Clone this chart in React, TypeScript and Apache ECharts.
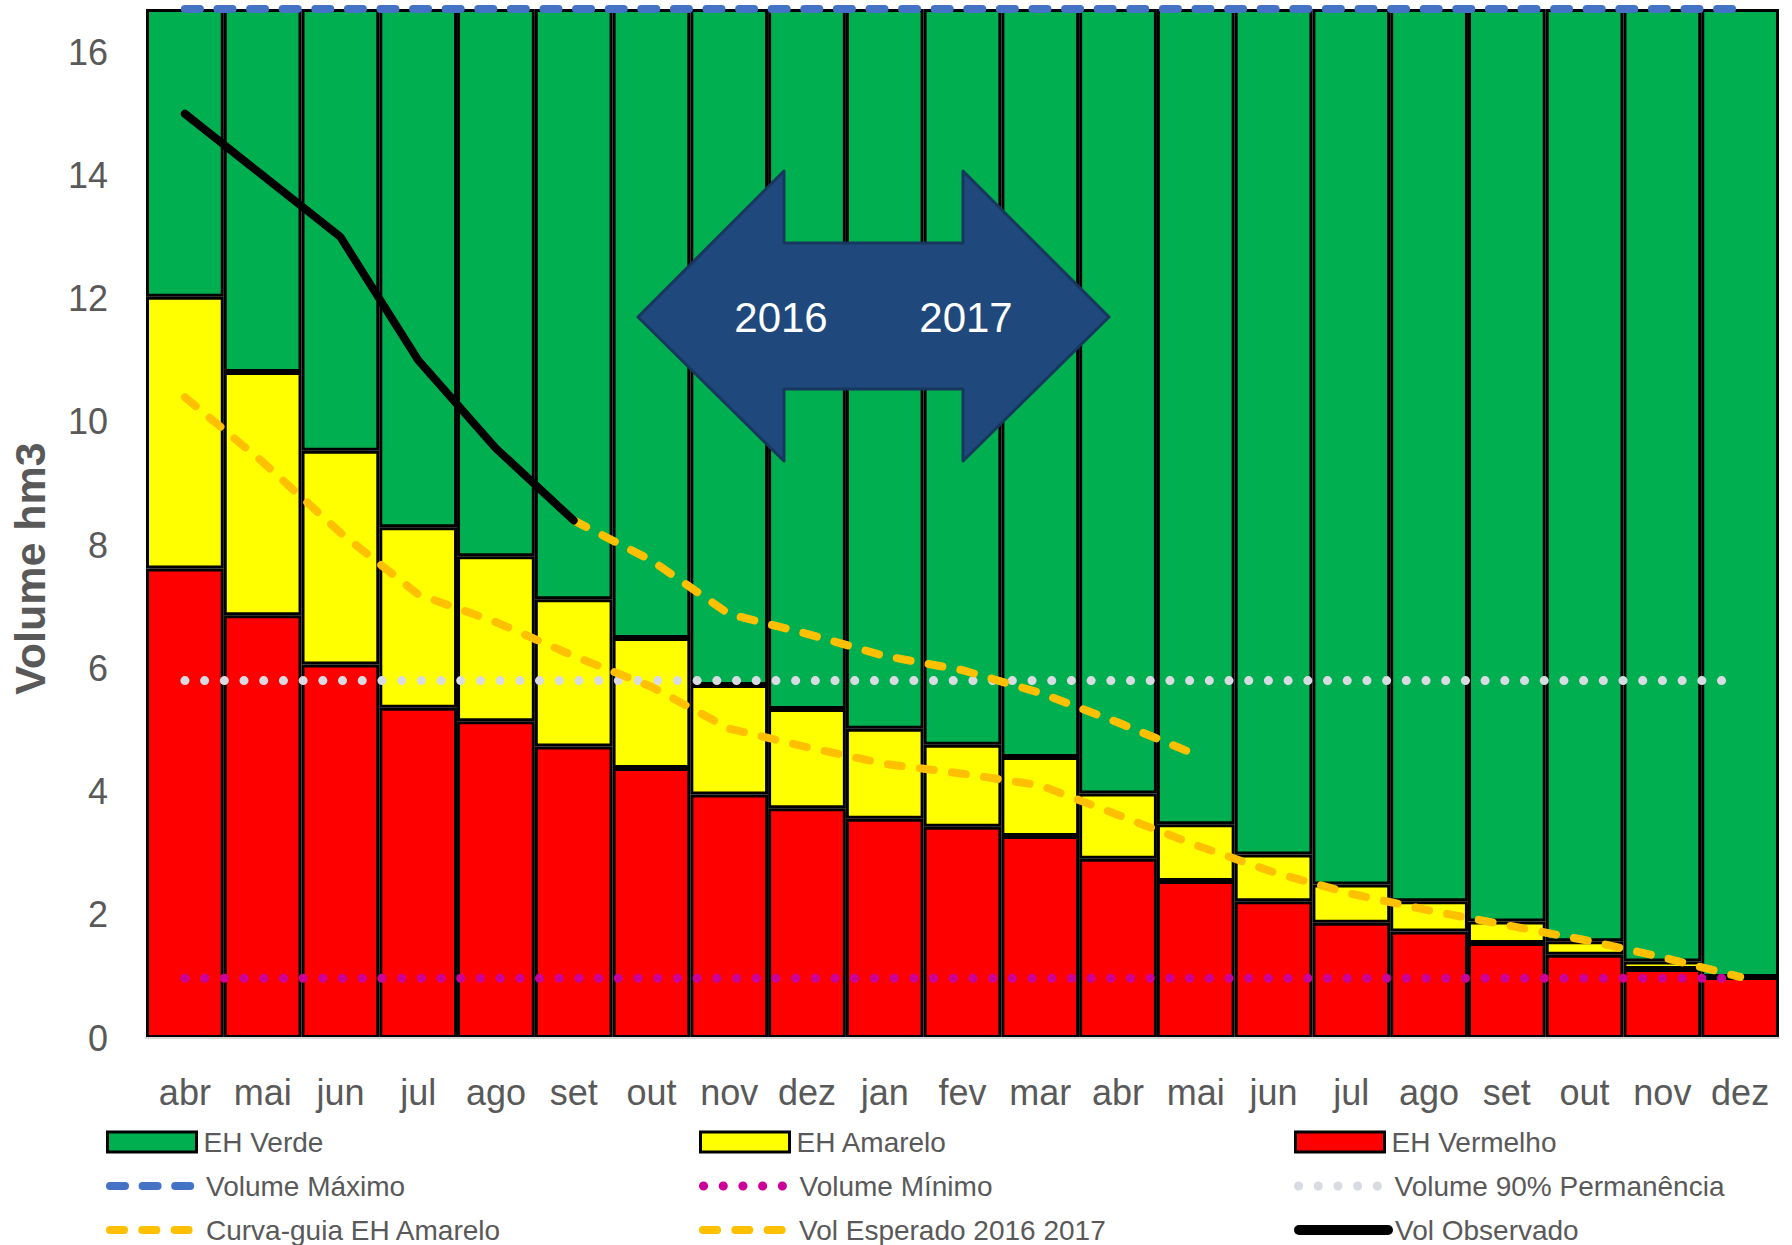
import React, { useEffect, useRef } from "react";
import * as echarts from "echarts";

// ---------- DATA ----------
const categories = [
  "abr", "mai", "jun", "jul", "ago", "set", "out", "nov", "dez", "jan", "fev",
  "mar", "abr", "mai", "jun", "jul", "ago", "set", "out", "nov", "dez",
];

// top of EH Vermelho zone (hm3)
const limiteVermelho = [
  7.62, 6.86, 6.06, 5.36, 5.14, 4.73, 4.38, 3.95, 3.73, 3.56, 3.43,
  3.28, 2.91, 2.55, 2.22, 1.87, 1.73, 1.54, 1.35, 1.12, 0.99,
];
// top of EH Amarelo zone (hm3)
const limiteAmarelo = [
  12.03, 10.81, 9.53, 8.29, 7.82, 7.12, 6.49, 5.73, 5.34, 5.02, 4.76,
  4.56, 3.97, 3.47, 2.98, 2.49, 2.22, 1.89, 1.57, 1.24, 0.99,
];
const volumeMaximo = 16.7;
const volumeMinimo = 0.97;
const volume90 = 5.8;

const curvaGuia = [
  10.4, 9.35, 8.2, 7.2, 6.75, 6.2, 5.7, 5.02, 4.72, 4.45, 4.29,
  4.1, 3.62, 3.13, 2.69, 2.34, 2.07, 1.83, 1.59, 1.31, 0.99,
];
const volEsperado = [
  null, null, null, null, null, 8.4, 7.75, 6.88, 6.56, 6.2, 5.97,
  5.6, 5.12, 4.6, null, null, null, null, null, null, null,
];
const volObservado = [
  15.0, 14.0, 13.0, 11.0, 9.57, 8.4, null, null, null, null, null,
  null, null, null, null, null, null, null, null, null, null,
];
const yInterval = 2;
const arrowLabels = ["2016", "2017"];

// ---------- STYLE ----------
const FONT = "'Liberation Sans', Arial, sans-serif";
const TEXT = "#595959";

const lineStyles: Record<string, any> = {
  "Volume Máximo": { color: "#4472C4", width: 8, type: [15, 17.6], cap: "round" },
  "Volume Mínimo": { color: "#CC0099", width: 9, type: [0.1, 19.6], cap: "round" },
  "Volume 90% Permanência": { color: "#D9DBE3", width: 9, type: [0.1, 19.6], cap: "round" },
  "Curva-guia EH Amarelo": { color: "#FFC000", width: 8, type: [14, 18.3], cap: "round" },
  "Vol Esperado 2016 2017": { color: "#FFC000", width: 8, type: [14, 18.3], cap: "round" },
  "Vol Observado": { color: "#000000", width: 8, type: "solid", cap: "round", join: "round" },
};
const barColors: Record<string, string> = {
  "EH Verde": "#00B050",
  "EH Amarelo": "#FFFF00",
  "EH Vermelho": "#FF0000",
};

const legendLayout = [
  { name: "EH Verde", col: 0, row: 0 },
  { name: "Volume Máximo", col: 0, row: 1 },
  { name: "Curva-guia EH Amarelo", col: 0, row: 2 },
  { name: "EH Amarelo", col: 1, row: 0 },
  { name: "Volume Mínimo", col: 1, row: 1 },
  { name: "Vol Esperado 2016 2017", col: 1, row: 2 },
  { name: "EH Vermelho", col: 2, row: 0 },
  { name: "Volume 90% Permanência", col: 2, row: 1 },
  { name: "Vol Observado", col: 2, row: 2 },
];
const colX = [106, 699, 1294];
const rowY = [1142, 1186, 1230];

function buildOption() {
  const red = limiteVermelho.map((v) => +v.toFixed(2));
  const yellow = limiteAmarelo.map((v, i) => +(v - limiteVermelho[i]).toFixed(2));
  const green = limiteAmarelo.map((v) => +(volumeMaximo - v).toFixed(2));

  const barSeries = [
    { name: "EH Vermelho", data: red },
    { name: "EH Amarelo", data: yellow },
    { name: "EH Verde", data: green },
  ].map((s) => ({
    type: "bar",
    name: s.name,
    stack: "zonas",
    data: s.data,
    barCategoryGap: "0%",
    itemStyle: { color: barColors[s.name], borderColor: "#000", borderWidth: 3 },
    z: 2,
  }));

  const lineData: [string, any[]][] = [
    ["Volume 90% Permanência", categories.map(() => volume90)],
    ["Volume Mínimo", categories.map(() => volumeMinimo)],
    ["Volume Máximo", categories.map(() => volumeMaximo)],
    ["Curva-guia EH Amarelo", curvaGuia],
    ["Vol Esperado 2016 2017", volEsperado],
    ["Vol Observado", volObservado],
  ];
  const lineSeries = lineData.map(([name, data], i) => ({
    type: "line",
    name,
    data,
    symbol: "none",
    showSymbol: false,
    connectNulls: false,
    clip: false,
    lineStyle: lineStyles[name],
    z: 5 + i,
  }));

  const legends = legendLayout.map((l) => {
    const isBar = !!barColors[l.name];
    const base: any = {
      show: true,
      data: [l.name],
      left: colX[l.col],
      top: rowY[l.row] - 15,
      orient: "horizontal",
      padding: 0,
      itemWidth: 89,
      itemHeight: 20,
      selectedMode: false,
      textStyle: {
        fontSize: 28, color: TEXT, fontFamily: FONT, lineHeight: 30,
        padding: [0, 0, 0, 2],
      },
    };
    if (isBar) {
      base.icon = "rect";
      base.itemStyle = { color: barColors[l.name], borderColor: "#000", borderWidth: 3 };
    } else {
      const ls = lineStyles[l.name];
      base.itemStyle = { opacity: 0, borderWidth: 0, color: "rgba(0,0,0,0)" };
      base.lineStyle = {
        color: ls.color,
        width: l.name === "Vol Observado" ? 10 : ls.width,
        type: ls.type,
        cap: "round",
        opacity: 1,
      };
    }
    return base;
  });

  const arrow = [
    [638, 317], [784, 171], [784, 243], [963, 243], [963, 171], [1109, 317],
    [963, 461], [963, 389], [784, 389], [784, 461],
  ];

  return {
    animation: false,
    backgroundColor: "#FFFFFF",
    textStyle: { fontFamily: FONT },
    grid: {
      left: 146, right: 13, top: 9, bottom: 207,
      containLabel: false, outerBoundsMode: "none",
    },
    legend: legends,
    xAxis: {
      type: "category",
      data: categories,
      axisTick: { show: false },
      axisLine: { show: true, lineStyle: { color: "#D9D9D9", width: 2 } },
      axisLabel: { interval: 0, fontSize: 36, color: TEXT, margin: 36, fontFamily: FONT },
      splitLine: { show: false },
      z: 10,
    },
    yAxis: {
      type: "value",
      min: 0,
      max: volumeMaximo,
      interval: yInterval,
      axisLine: { show: false },
      axisTick: { show: false },
      splitLine: { show: false },
      axisLabel: { fontSize: 36, color: TEXT, margin: 38, showMaxLabel: false, fontFamily: FONT },
      name: "Volume hm3",
      nameLocation: "middle",
      nameGap: 95,
      nameTextStyle: {
        fontSize: 43, fontWeight: "bold", color: TEXT, fontFamily: FONT,
        padding: [0, 90, 0, 0],
      },
    },
    series: [...barSeries, ...lineSeries],
    graphic: [
      {
        type: "polygon",
        z: 100,
        shape: { points: arrow },
        style: { fill: "#1F497D", stroke: "#17375E", lineWidth: 3, lineJoin: "round" },
      },
      {
        type: "text",
        z: 101,
        x: 781,
        y: 317,
        style: {
          text: arrowLabels[0], fill: "#FFFFFF", fontSize: 42, fontFamily: FONT,
          align: "center", verticalAlign: "middle",
        },
      },
      {
        type: "text",
        z: 101,
        x: 966,
        y: 317,
        style: {
          text: arrowLabels[1], fill: "#FFFFFF", fontSize: 42, fontFamily: FONT,
          align: "center", verticalAlign: "middle",
        },
      },
    ],
  };
}

export default function App() {
  const ref = useRef<HTMLDivElement>(null);
  useEffect(() => {
    if (!ref.current) return;
    const chart = echarts.init(ref.current, null, { renderer: "svg" });
    chart.setOption(buildOption() as any);
    return () => chart.dispose();
  }, []);
  return (
    <div
      ref={ref}
      style={{ position: "fixed", left: 0, top: 0, width: 1792, height: 1245, background: "#fff" }}
    />
  );
}
